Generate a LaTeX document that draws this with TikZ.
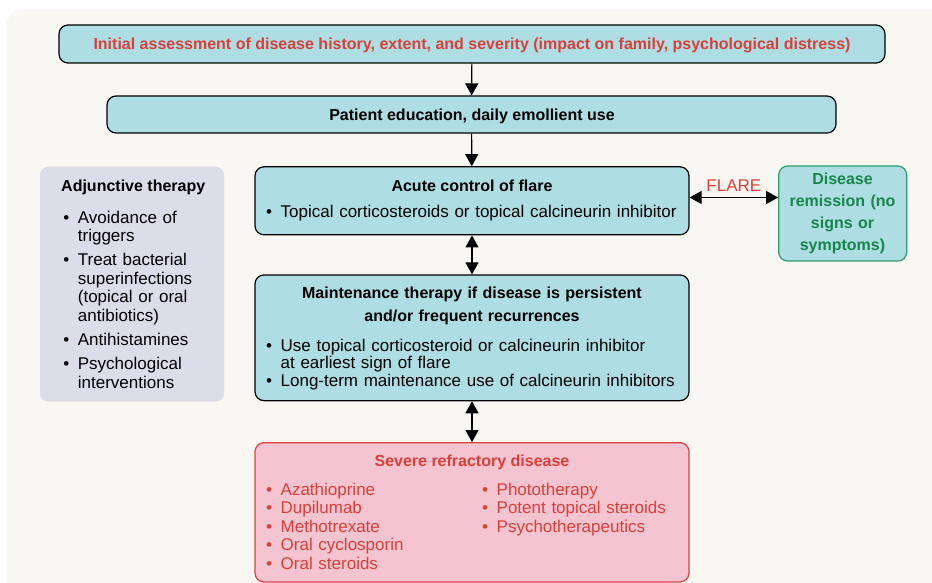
\documentclass[tikz,border=0pt]{standalone}
\usepackage{fontspec}
\setmainfont{Liberation Sans}
\usetikzlibrary{arrows.meta}

\definecolor{panelbg}{HTML}{F8F7F2}
\definecolor{boxblue}{HTML}{AEDDE4}
\definecolor{txtred}{HTML}{D8403A}
\definecolor{txtgreen}{HTML}{17864A}
\definecolor{edgegreen}{HTML}{2E9D6E}
\definecolor{pinkfill}{HTML}{F4C4D0}
\definecolor{pinkedge}{HTML}{D9443F}
\definecolor{lavender}{HTML}{DDDCE9}

% hanging bullet items: \bitem opens a list, \nitem starts each further item
\newlength\bulw
\setlength\bulw{14.5pt}
\newcommand\bitem{\hangindent=\bulw\hangafter=1\makebox[\bulw][l]{\textbullet}}
\newcommand\nitem{\par\bitem}

\tikzset{
  box/.style={draw=black, line width=1.2pt, fill=boxblue, rounded corners=9pt, inner sep=0pt},
  remibox/.style={draw=edgegreen, line width=1.2pt, fill=boxblue, rounded corners=9pt, inner sep=0pt},
  sevbox/.style={draw=pinkedge, line width=1.2pt, fill=pinkfill, rounded corners=9pt, inner sep=0pt},
  adjbox/.style={fill=lavender, rounded corners=8pt, inner sep=0pt},
  txt/.style={inner sep=0pt, anchor=base},
  lst/.style={inner sep=0pt, anchor=base west, align=left},
  bld/.style={font=\bfseries\fontsize{16}{22}\selectfont},
  reg/.style={font=\fontsize{17}{18.5}\selectfont},
  flow/.style={line width=1.2pt, -{Triangle[width=13pt,length=12pt]}},
  both/.style={line width=1.2pt, {Triangle[width=13pt,length=12pt]}-{Triangle[width=13pt,length=12pt]}},
}

\begin{document}
\begin{tikzpicture}[x=1pt, y=-1pt]
\useasboundingbox (0,0) rectangle (932,583);
% page panel
\fill[panelbg, rounded corners=15pt] (7,9.5) rectangle (990,640);

% main column boxes
\node[box, minimum width=826pt, minimum height=38pt] (init) at (472,44) {};
\node[txt, bld, text=txtred] (initT) at (472,50)
  {Initial assessment of disease history, extent, and severity (impact on family, psychological distress)};

\node[box, minimum width=729pt, minimum height=37pt] (edu) at (471.5,114.5) {};
\node[txt, bld] (eduT) at (472,120.3) {Patient education, daily emollient use};

\node[box, minimum width=434pt, minimum height=68pt] (acute) at (472,200.8) {};
\node[txt, bld] (acuteT) at (472,192) {Acute control of flare};
\node[lst, reg, text width=420pt] (acuteL) at (266,217)
  {\bitem Topical corticosteroids or topical calcineurin inhibitor\par};

\node[box, minimum width=434pt, minimum height=125.7pt] (maint) at (472,337.8) {};
\node[txt, font=\bfseries\fontsize{16}{23.4}\selectfont, align=center, text width=420pt] (maintT) at (472,298.3)
  {Maintenance therapy if disease is persistent\\ and/or frequent recurrences};
\node[lst, font=\fontsize{17}{17.9}\selectfont, text width=420pt] (maintL) at (266,351)
  {\bitem Use topical corticosteroid or calcineurin inhibitor\newline at earliest sign of flare
   \nitem Long-term maintenance use of calcineurin inhibitors\par};

\node[sevbox, minimum width=434pt, minimum height=139.3pt] (severe) at (472,512.3) {};
\node[txt, bld, text=txtred] (severeT) at (472,466.7) {Severe refractory disease};
\node[lst, font=\fontsize{17}{18.6}\selectfont, text=txtred, text width=200pt] (sevA) at (266,495)
  {\bitem Azathioprine \nitem Dupilumab \nitem Methotrexate \nitem Oral cyclosporin \nitem Oral steroids\par};
\node[lst, font=\fontsize{17}{18.6}\selectfont, text=txtred, text width=200pt] (sevB) at (482,495)
  {\bitem Phototherapy \nitem Potent topical steroids \nitem Psychotherapeutics\par};

% side boxes
\node[adjbox, minimum width=184pt, minimum height=235pt] (adj) at (132,284.2) {};
\node[lst, bld] (adjT) at (61,191.7) {Adjunctive therapy};
\node[lst, reg, text width=160pt] (adjL) at (63.2,223.3)
  {\setlength{\parskip}{5.6pt}%
   \bitem Avoidance of\newline triggers
   \nitem Treat bacterial\newline superinfections\newline (topical or oral\newline antibiotics)
   \nitem Antihistamines
   \nitem Psychological\newline interventions\par};

\node[remibox, minimum width=128pt, minimum height=95pt] (remi) at (842.7,213.5) {};
\node[txt, font=\bfseries\fontsize{16}{21.7}\selectfont, text=txtgreen, align=center, text width=120pt] (remiT) at (842.5,185)
  {Disease\\ remission (no\\ signs or\\ symptoms)};

% connectors
\draw[flow] (init) -- (edu);
\draw[flow] (edu) -- (acute);
\draw[both] (acute) -- (maint);
\draw[both] (maint) -- (severe);
\draw[both] ([yshift=3.3pt]acute.east) -- ([yshift=3.3pt]acute.east -| remi.west)
  node[midway, above=5pt, inner sep=0pt, reg, text=txtred] (flareT) {FLARE};
\end{tikzpicture}
\end{document}
